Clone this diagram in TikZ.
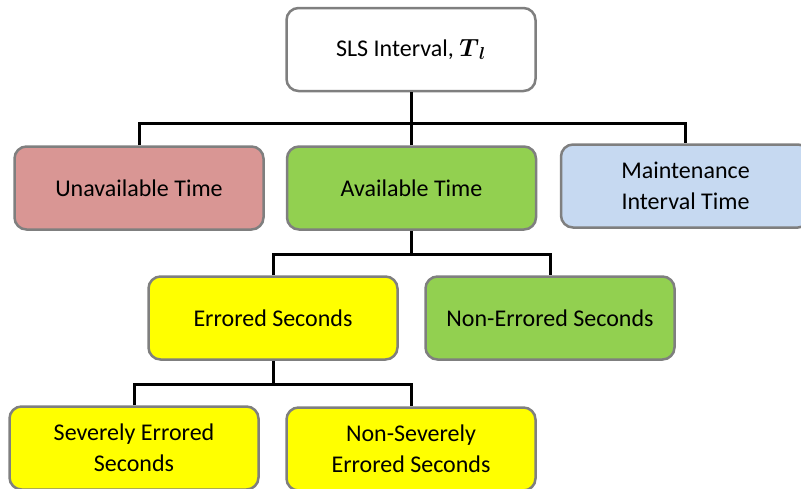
\documentclass[tikz,border=0pt]{standalone}
\usepackage{amsmath}
\usepackage{fontspec}
\setmainfont{Carlito}
\usepackage{tikz}
\usetikzlibrary{calc}
\definecolor{redbox}{HTML}{D99694}
\definecolor{greenbox}{HTML}{92D050}
\definecolor{bluebox}{HTML}{C6D9F1}
\definecolor{yellowbox}{HTML}{FFFF00}
\definecolor{edgegray}{HTML}{7F7F7F}
\tikzset{
	box/.style={draw=edgegray, line width=2.5pt, rounded corners=12pt, minimum width=249pt, minimum height=83pt, inner sep=0pt, align=center, font=\fontsize{24}{31}\selectfont},
	link/.style={draw=black, line width=3pt}
}

\begin{document}
\begin{tikzpicture}[x=1pt, y=-1pt]
			%%%%% START %%%%%
			
			\useasboundingbox (0, 0) rectangle (801, 488);
			
			\node[box, fill=white] (sls) at (411, 49.5) {SLS Interval, $\boldsymbol{T}_{\boldsymbol{l}}$};
			
			\node[box, fill=redbox] (unav) at (139, 188) {Unavailable Time};
			\node[box, fill=greenbox] (avail) at (411.5, 188) {Available Time};
			\node[box, fill=bluebox] (maint) at (685.5, 186) {Maintenance\\Interval Time};
			
			\node[box, fill=yellowbox] (err) at (273, 318) {Errored Seconds};
			\node[box, fill=greenbox] (nonerr) at (550, 318) {Non-Errored Seconds};
			
			\node[box, fill=yellowbox] (sev) at (134, 448) {Severely Errored\\Seconds};
			\node[box, fill=yellowbox] (nonsev) at (411, 449) {Non-Severely\\Errored Seconds};
			
			\coordinate (bara) at (0, 123);
			\coordinate (barb) at (0, 254);
			\coordinate (barc) at (0, 384);
			
			\draw[link] (sls.south) -- (sls.south |- bara);
			\draw[link] (unav.north) -- (unav.north |- bara) -| (maint.north);
			\draw[link] (avail.north) -- (avail.north |- bara);
			
			\draw[link] (avail.south) -- (avail.south |- barb);
			\draw[link] (err.north) -- (err.north |- barb) -| (nonerr.north);
			
			\draw[link] (err.south) -- (err.south |- barc);
			\draw[link] (sev.north) -- (sev.north |- barc) -| (nonsev.north);
			
			%%%%% END %%%%%
\end{tikzpicture}
\end{document}
